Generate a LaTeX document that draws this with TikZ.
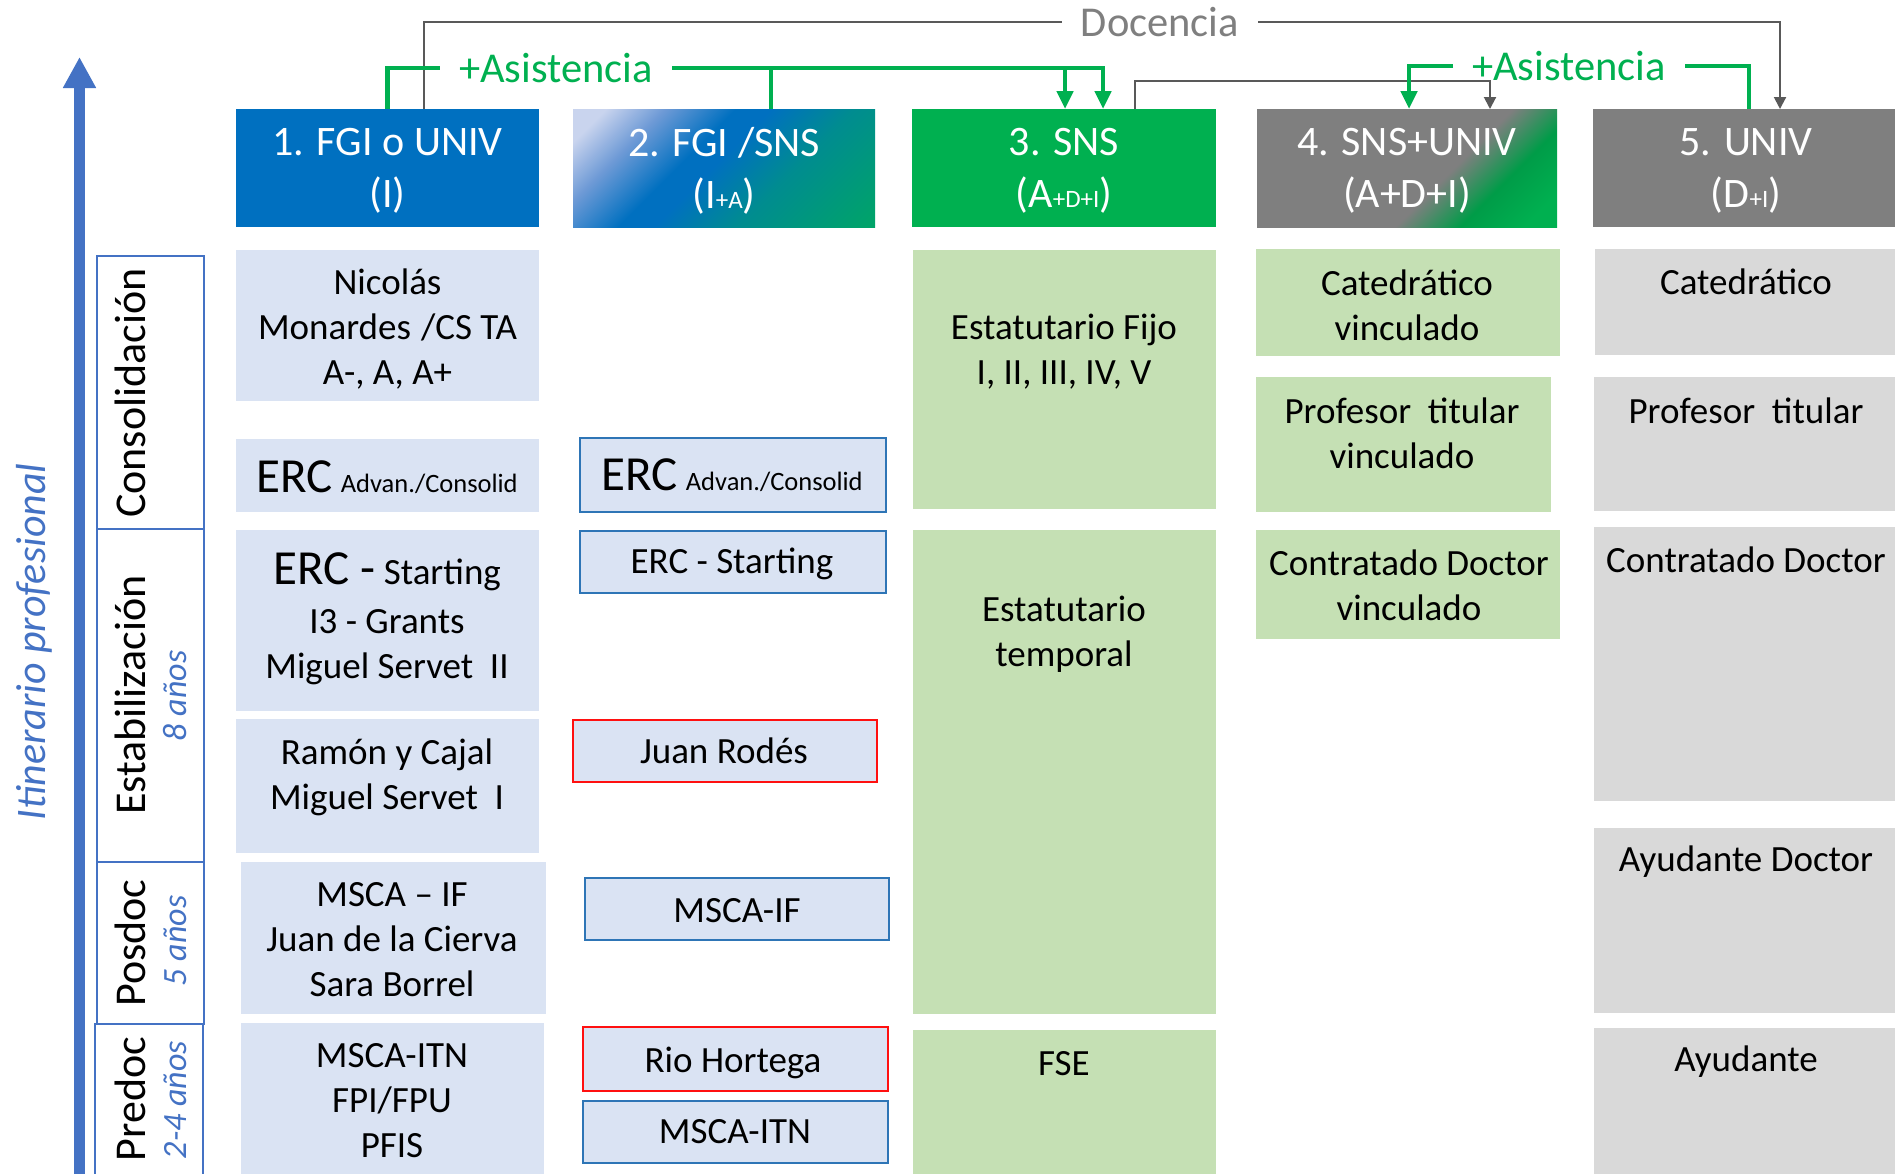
\documentclass[tikz,border=0pt]{standalone}
\usepackage{fontspec}
\setmainfont{Carlito}
\usetikzlibrary{arrows.meta}
\definecolor{hblue}{HTML}{0070C0}
\definecolor{hgreen}{HTML}{00B050}
\definecolor{hgray}{HTML}{7F7F7F}
\definecolor{lblue}{HTML}{DAE3F3}
\definecolor{lgreen}{HTML}{C5E0B4}
\definecolor{lgray}{HTML}{D9D9D9}
\definecolor{bborder}{HTML}{2E75B6}
\definecolor{rborder}{HTML}{FF1010}
\definecolor{axblue}{HTML}{4472C4}
\definecolor{lineg}{HTML}{595959}
\definecolor{txtg}{HTML}{7F7F7F}
\definecolor{lilac}{HTML}{C9D4EE}
\definecolor{midlb}{HTML}{6E9AD6}
\definecolor{tealc}{HTML}{008C90}
\definecolor{tealg}{HTML}{00A468}
\definecolor{dgreen}{HTML}{009C48}
\pgfdeclareverticalshading{hdtwo}{100bp}{color(0bp)=(tealg); color(15bp)=(tealg); color(38bp)=(tealc); color(52bp)=(hblue); color(58bp)=(hblue); color(70bp)=(midlb); color(80bp)=(lilac); color(100bp)=(lilac)}
\pgfdeclareverticalshading{hdfour}{100bp}{color(0bp)=(hgreen); color(20bp)=(hgreen); color(31bp)=(dgreen); color(42bp)=(hgray); color(100bp)=(hgray)}
\newcommand\mybox[6]{\node[cell,#6,minimum width={#4-#2},minimum height={#5-#3}] (#1) at (#2,#3) {};}
\newcommand\sm[1]{{\fontsize{25}{25}\selectfont #1}}
\newcommand\bigerc[1]{{\fontsize{49}{52}\selectfont #1}}
\newcommand\smadv[1]{{\fontsize{26.5}{30}\selectfont #1}}
\begin{document}
\begin{tikzpicture}[x=1pt,y=-1pt,
 cell/.style={inner sep=0pt,outer sep=0pt,anchor=north west},
 bodytxt/.style={font=\fontsize{37}{45}\selectfont,align=center,inner sep=0pt,text=black},
 hdr/.style={font=\fontsize{42}{52}\selectfont,align=center,inner sep=0pt,text=white},
 stg/.style={font=\fontsize{44}{50}\selectfont,rotate=90,inner sep=0pt},
 yrs/.style={font=\fontsize{34}{40}\selectfont\itshape,text=axblue,rotate=90,inner sep=0pt},
 conlbl/.style={font=\fontsize{42.5}{50}\selectfont,inner ysep=0pt,inner xsep=19pt},
 docline/.style={draw=lineg,line width=2pt},
 grline/.style={draw=hgreen,line width=4.5pt},
 gtip/.style={-{Triangle[width=16pt,length=18pt]}},
 ktip/.style={-{Triangle[width=12pt,length=12pt]}},
 bluebx/.style={fill=lblue,draw=bborder,line width=2pt},
 redbx/.style={fill=lblue,draw=rborder,line width=2pt},
 stgbx/.style={fill=white,draw=axblue,line width=2pt},
]
\fill[white] (0,0) rectangle (1895,1173);
\useasboundingbox (0,0) rectangle (1895,1173);

% headers
\mybox{h1}{236}{109}{539}{227}{fill=hblue}
\mybox{h2}{573}{109}{875}{227}{shade,shading=hdtwo,shading angle=45}
\mybox{h3}{912}{109}{1216}{227}{fill=hgreen}
\mybox{h4}{1257}{109}{1557}{227}{shade,shading=hdfour,shading angle=45}
\mybox{h5}{1593}{109}{1900}{227}{fill=hgray}
\node[hdr] (th1) at (387.5,171) {1. FGI o UNIV\\(I)};
\node[hdr] (th2) at (724,171) {2. FGI /SNS\\(I\sm{+A})};
\node[hdr] (th3) at (1064,171) {3. SNS\\(A\sm{+D+I})};
\node[hdr] (th4) at (1407,171) {4. SNS+UNIV\\(A+D+I)};
\node[hdr] (th5) at (1746,171) {5. UNIV\\(D\sm{+I})};

% axis
\coordinate (axb) at (79.5,1185);
\coordinate (axt) at (79.5,57);
\draw[axblue,line width=11pt,-{Triangle[width=31pt,length=31pt]}] (axb) -- (axt);
\node[font=\fontsize{42}{50}\selectfont\itshape,text=axblue,rotate=90,inner sep=0pt] (itin) at (34,642) {Itinerario profesional};

% stage boxes
\mybox{s1}{97}{256}{204}{529}{stgbx}
\mybox{s2}{97}{529}{204}{862}{stgbx}
\mybox{s3}{97}{862}{204}{1024}{stgbx}
\mybox{s4}{95}{1024}{203}{1190}{stgbx}
\node[stg] (lc) at (130,393) {Consolidación};
\node[stg] (le) at (130,695) {Estabilización};
\node[yrs] (ye) at (175,696) {8 años};
\node[stg] (lp) at (130,943) {Posdoc};
\node[yrs] (yp) at (175,941) {5 años};
\node[stg] (lr) at (130,1099) {Predoc};
\node[yrs] (yr) at (175,1100) {2-4 años};

% column 1
\mybox{a1}{236}{250}{539}{401}{fill=lblue}
\mybox{a2}{236}{439}{539}{512}{fill=lblue}
\mybox{a3}{236}{530}{539}{711}{fill=lblue}
\mybox{a4}{236}{719}{539}{853}{fill=lblue}
\mybox{a5}{241}{862}{546}{1014}{fill=lblue}
\mybox{a6}{241}{1023}{544}{1190}{fill=lblue}
\node[bodytxt] (ta1) at (387.5,329) {Nicolás\\Monardes\kern10pt/CS TA\\A-, A, A+};
\node[bodytxt] (ta2) at (387,477) {\bigerc{ERC} \smadv{Advan./Consolid}};
\node[bodytxt] (ta3) at (387,619) {\bigerc{ERC -} Starting\\[4pt]I3 - Grants\\Miguel Servet\ \ II};
\node[bodytxt] (ta4) at (387,777) {Ramón y Cajal\\Miguel Servet\ \ I};
\node[bodytxt] (ta5) at (392,940) {MSCA – IF\\Juan de la Cierva\\Sara Borrel};
\node[bodytxt] (ta6) at (392,1101) {MSCA-ITN\\FPI/FPU\\PFIS};

% column 2
\mybox{b1}{580}{438}{886}{512}{bluebx}
\mybox{b2}{580}{531}{886}{593}{bluebx}
\mybox{b3}{573}{720}{877}{782}{redbx}
\mybox{b4}{585}{878}{889}{940}{bluebx}
\mybox{b5}{583}{1027}{888}{1091}{redbx}
\mybox{b6}{583}{1101}{888}{1163}{bluebx}
\node[bodytxt] (tb1) at (732,475) {\bigerc{ERC} \smadv{Advan./Consolid}};
\node[bodytxt] (tb2) at (732,564) {ERC - Starting};
\node[bodytxt] (tb3) at (724,751) {Juan Rodés};
\node[bodytxt] (tb4) at (737,911) {MSCA-IF};
\node[bodytxt] (tb5) at (733,1063) {Rio Hortega};
\node[bodytxt] (tb6) at (735,1132) {MSCA-ITN};

% column 3
\mybox{c1}{913}{250}{1216}{509}{fill=lgreen}
\mybox{c2}{913}{530}{1216}{1014}{fill=lgreen}
\mybox{c3}{913}{1030}{1216}{1190}{fill=lgreen}
\node[bodytxt] (tc1) at (1064,352) {Estatutario Fijo\\I, II, III, IV, V};
\node[bodytxt] (tc2) at (1064,634) {Estatutario\\temporal};
\node[bodytxt] (tc3) at (1064,1064) {FSE};

% column 4
\mybox{d1}{1256}{249}{1560}{356}{fill=lgreen}
\mybox{d2}{1256}{377}{1551}{512}{fill=lgreen}
\mybox{d3}{1256}{530}{1560}{639}{fill=lgreen}
\node[bodytxt] (td1) at (1407,305) {Catedrático\\vinculado};
\node[bodytxt] (td2) at (1402,433) {Profesor\ \ titular\\vinculado};
\node[bodytxt] (td3) at (1409,585) {Contratado Doctor\\vinculado};

% column 5
\mybox{e1}{1595}{249}{1900}{355}{fill=lgray}
\mybox{e2}{1594}{377}{1900}{511}{fill=lgray}
\mybox{e3}{1594}{527}{1900}{801}{fill=lgray}
\mybox{e4}{1594}{828}{1900}{1013}{fill=lgray}
\mybox{e5}{1594}{1028}{1900}{1190}{fill=lgray}
\node[bodytxt] (te1) at (1746,282) {Catedrático};
\node[bodytxt] (te2) at (1746,411) {Profesor\ \ titular};
\node[bodytxt] (te3) at (1746,560) {Contratado Doctor};
\node[bodytxt] (te4) at (1746,862) {Ayudante Doctor};
\node[bodytxt] (te5) at (1746,1062) {Ayudante};

% connectors
\node[conlbl,text=txtg] (doc) at (1160,22) {Docencia};
\node[conlbl,text=hgreen] (as1) at (556,68) {+Asistencia};
\node[conlbl,text=hgreen] (as2) at (1569,66) {+Asistencia};
\draw[docline] ([xshift=36.5pt]h1.north) |- (doc.west);
\draw[docline,ktip] (doc.east) -| ([xshift=33.5pt]h5.north);
\draw[docline,ktip] ([xshift=71pt]h3.north) -- ++(0,-28) -| ([xshift=83pt]h4.north);
\draw[grline] (h1.north) |- (as1.west);
\draw[grline,gtip] (as1.east) -| ([xshift=39pt]h3.north);
\coordinate (g3) at ([xshift=1pt]h3.north);
\draw[grline,gtip] (g3 |- as1.east) -- (g3);
\coordinate (g2) at ([xshift=47pt]h2.north);
\draw[grline] (g2) -- (g2 |- as1.east);
\draw[grline,gtip] (as2.west) -| ([xshift=2pt]h4.north);
\draw[grline] (as2.east) -| ([xshift=2.5pt]h5.north);
\end{tikzpicture}
\end{document}
